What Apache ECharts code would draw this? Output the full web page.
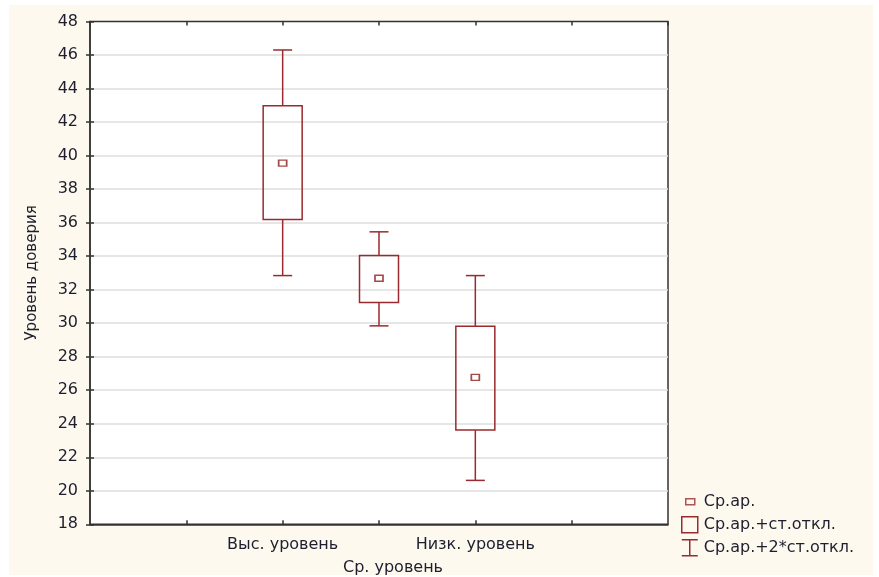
<!DOCTYPE html>
<html>
<head>
<meta charset="utf-8">
<script src="https://cdn.jsdelivr.net/npm/echarts@6/dist/echarts.min.js"></script>
<style>html,body{margin:0;padding:0;background:#fff}#c{width:879px;height:577px}</style>
</head>
<body>
<div id="c"></div>
<script>
const categories = ['Выс. уровень', 'Ср. уровень', 'Низк. уровень'];
const catPos = [2, 3, 4];
const means = [39.55, 32.68, 26.77];
const sdLow = [36.18, 31.23, 23.62];
const sdHigh = [42.98, 34.04, 29.82];
const sd2Low = [32.84, 29.84, 20.62];
const sd2High = [46.3, 35.45, 32.84];
const legendNames = ['Ср.ар.', 'Ср.ар.+ст.откл.', 'Ср.ар.+2*ст.откл.'];
const yMin = 18, yMax = 48, yStep = 2;

const RED = '#9a2a2d';
const FONT = 'DejaVu Sans';
const TXT = '#1e1e2e';

const boxData = catPos.map((x, i) => [x, sdLow[i], sdHigh[i]]);
const whiskerData = catPos.map((x, i) => [x, sd2Low[i], sdLow[i], sdHigh[i], sd2High[i]]);
const meanData = catPos.map((x, i) => [x, means[i]]);

const chart = echarts.init(document.getElementById('c'));
chart.setOption({
  backgroundColor: '#ffffff',
  animation: false,
  graphic: [{
    type: 'rect', z: -100, silent: true,
    shape: { x: 9, y: 5, width: 864, height: 570 },
    style: { fill: '#fdf9ee' }
  }],
  grid: {
    left: 90, right: 211, top: 21.5, bottom: 52.7,
    outerBoundsMode: 'none', containLabel: false,
    show: true, backgroundColor: '#ffffff', borderColor: '#333', borderWidth: 1.5
  },
  legend: {
    orient: 'vertical', left: 675, top: 487,
    itemWidth: 18, itemHeight: 18, itemGap: 3.5,
    textStyle: { fontFamily: FONT, fontSize: 16, color: TXT },
    data: [
      { name: legendNames[0], icon: 'path://M0,0M18,18M5,6h9v6h-9z',
        itemStyle: { color: 'rgba(0,0,0,0)', borderColor: RED, borderWidth: 1.5 } },
      { name: legendNames[1], icon: 'path://M0,0M18,18M1,1h16v16h-16z',
        itemStyle: { color: 'rgba(0,0,0,0)', borderColor: RED, borderWidth: 1.5 } },
      { name: legendNames[2], icon: 'path://M0,0M18,18M1,1H17M9,1V17M1,17H17',
        itemStyle: { color: 'rgba(0,0,0,0)', borderColor: RED, borderWidth: 1.5 } }
    ]
  },
  xAxis: [{
    type: 'value', min: 0, max: 6, interval: 1,
    axisLine: { show: true, lineStyle: { color: '#333', width: 1.5 } },
    axisTick: { show: true, inside: true, length: 4, lineStyle: { color: '#333', width: 1.5 } },
    splitLine: { show: false },
    axisLabel: {
      fontFamily: FONT, fontSize: 16, color: TXT, margin: 13,
      showMinLabel: false, showMaxLabel: false, hideOverlap: false,
      formatter: v => {
        const i = catPos.indexOf(v);
        if (i < 0) return '';
        return v === 3 ? '{low|' + categories[i] + '}' : categories[i];
      },
      rich: { low: { fontFamily: FONT, fontSize: 16, color: TXT, padding: [23, 0, 0, 28] } }
    }
  }, {
    type: 'value', position: 'top', min: 0, max: 6, interval: 1,
    axisLine: { show: false },
    axisTick: { show: true, inside: true, length: 4, lineStyle: { color: '#333', width: 1.5 } },
    axisLabel: { show: false }, splitLine: { show: false }
  }],
  yAxis: [{
    type: 'value', min: yMin, max: yMax, interval: yStep,
    name: 'Уровень доверия', nameLocation: 'middle', nameGap: 50, nameRotate: 90,
    nameTextStyle: { fontFamily: FONT, fontSize: 15, color: TXT },
    axisLine: { show: true, lineStyle: { color: '#333', width: 1.5 } },
    axisTick: { show: true, inside: true, length: 4, lineStyle: { color: '#333', width: 1.5 } },
    splitLine: { show: true, showMinLine: false, showMaxLine: false, lineStyle: { color: '#dedede', width: 1.5 } },
    axisLabel: { fontFamily: FONT, fontSize: 16, color: TXT, margin: 12 }
  }, {
    type: 'value', position: 'right', min: yMin, max: yMax, interval: yStep,
    axisLine: { show: false },
    axisTick: { show: true, inside: true, length: 4, lineStyle: { color: '#333', width: 1.5 } },
    axisLabel: { show: false }, splitLine: { show: false }
  }],
  series: [{
    name: legendNames[2], type: 'custom', z: 3,
    data: whiskerData, encode: { x: 0, y: [1, 4] },
    renderItem: (params, api) => {
      const x = api.value(0);
      const p1 = api.coord([x, api.value(1)]);
      const p2 = api.coord([x, api.value(2)]);
      const p3 = api.coord([x, api.value(3)]);
      const p4 = api.coord([x, api.value(4)]);
      const cw = 9.5;
      const st = { stroke: RED, lineWidth: 1.5, fill: null };
      return { type: 'group', children: [
        { type: 'line', shape: { x1: p1[0], y1: p1[1], x2: p2[0], y2: p2[1] }, style: st },
        { type: 'line', shape: { x1: p3[0], y1: p3[1], x2: p4[0], y2: p4[1] }, style: st },
        { type: 'line', shape: { x1: p1[0] - cw, y1: p1[1], x2: p1[0] + cw, y2: p1[1] }, style: st },
        { type: 'line', shape: { x1: p4[0] - cw, y1: p4[1], x2: p4[0] + cw, y2: p4[1] }, style: st }
      ]};
    }
  }, {
    name: legendNames[1], type: 'custom', z: 4,
    data: boxData, encode: { x: 0, y: [1, 2] },
    renderItem: (params, api) => {
      const x = api.value(0);
      const lo = api.coord([x, api.value(1)]);
      const hi = api.coord([x, api.value(2)]);
      const w = 39;
      return { type: 'rect',
        shape: { x: lo[0] - w / 2, y: hi[1], width: w, height: lo[1] - hi[1] },
        style: { fill: 'rgba(255,255,255,0)', stroke: RED, lineWidth: 1.5 } };
    }
  }, {
    name: legendNames[0], type: 'scatter', z: 5,
    data: meanData, symbol: 'rect', symbolSize: [8, 6],
    itemStyle: { color: '#ffffff', borderColor: '#8e1c1c', borderWidth: 1.5 }
  }]
});
</script>
</body>
</html>
